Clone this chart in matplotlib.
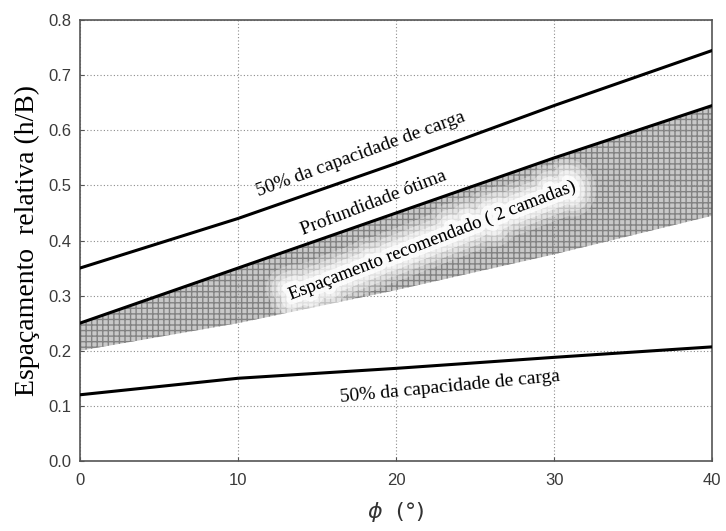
import numpy as np
import matplotlib.pyplot as plt
import matplotlib.patheffects as pe

phi = [0, 10, 20, 30, 40]
upper_50 = [0.35, 0.44, 0.54, 0.645, 0.745]
optimal = [0.25, 0.35, 0.45, 0.55, 0.645]
band_low = [0.20, 0.25, 0.31, 0.375, 0.445]
lower_50 = [0.12, 0.15, 0.168, 0.188, 0.207]

fig = plt.figure(figsize=(7.26, 5.31), dpi=100)
ax = fig.add_axes([0.110, 0.132, 0.871, 0.830])

# recommended spacing band
ax.fill_between(phi, band_low, optimal, facecolor='#c8c8c8', edgecolor='#828282',
                hatch='+++', linewidth=0, zorder=1)

ax.plot(phi, upper_50, color='black', lw=2.2, zorder=3)
ax.plot(phi, optimal, color='black', lw=2.2, zorder=3)
ax.plot(phi, lower_50, color='black', lw=2.2, zorder=3)

serif = 'Liberation Serif'
ax.text(17.8, 0.556, '50% da capacidade de carga', rotation=20, family=serif,
        fontsize=14, ha='center', va='center', zorder=4)
ax.text(18.6, 0.468, 'Profundidade ótima', rotation=21, family=serif,
        fontsize=14, ha='center', va='center', zorder=4)
# soft white glow behind the band label
glow = [pe.withStroke(linewidth=w, foreground='white', alpha=a)
        for w, a in [(30, 0.25), (22, 0.35), (14, 0.5), (7, 0.8)]]
ax.text(22.3, 0.400, 'Espaçamento recomendado ( 2 camadas)', rotation=21, family=serif,
        fontsize=13.5, ha='center', va='center', zorder=4, path_effects=glow)
ax.text(23.4, 0.134, '50% da capacidade de carga', rotation=5.5, family=serif,
        fontsize=14, ha='center', va='center', zorder=4)

ax.set_xlim(0, 40)
ax.set_ylim(0, 0.8)
ax.set_xticks([0, 10, 20, 30, 40])
ax.set_yticks(np.arange(0, 0.81, 0.1))
ax.set_yticklabels([f'{v:.1f}' for v in np.arange(0, 0.81, 0.1)])
ax.grid(True, color='#8c8c8c', linestyle=(0, (1, 2)), linewidth=0.8, zorder=0)
ax.tick_params(direction='in', length=3, colors='#555555', labelsize=12)
ax.tick_params(axis='x', pad=9)
ax.tick_params(axis='y', pad=6)
for lab in ax.get_xticklabels() + ax.get_yticklabels():
    lab.set_family('Liberation Sans')
    lab.set_color('#3a3a3a')
for s in ax.spines.values():
    s.set_color('#555555')
    s.set_linewidth(1.2)

ax.set_ylabel('Espaçamento  relativa (h/B)', family=serif, fontsize=20, labelpad=6)
ax.set_xlabel(r'$\phi$  (°)', family='DejaVu Sans', fontsize=16, color='#333333', labelpad=8)

fig.savefig('out.png', dpi=100)
